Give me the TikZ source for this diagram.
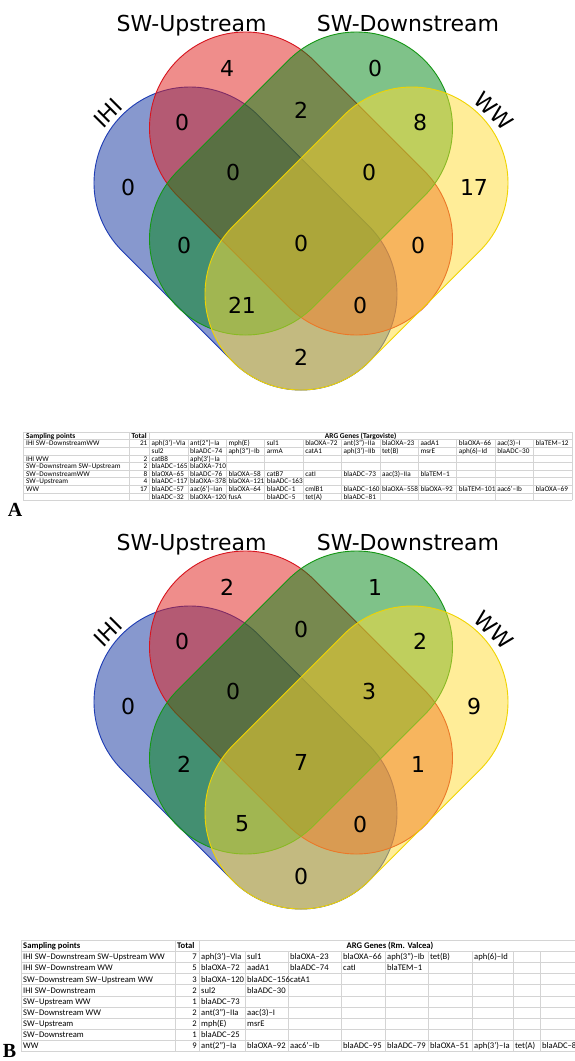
\documentclass[tikz,border=0pt]{standalone}
\usepackage{fontspec}
\newfontfamily\vfont{DejaVu Sans}
\newfontfamily\tfont{Carlito}
\newfontfamily\lfont{Liberation Serif}
\definecolor{vblue}{RGB}{17,51,159}
\definecolor{vred}{RGB}{225,29,25}
\definecolor{vgreen}{RGB}{0,135,21}
\definecolor{vyellow}{RGB}{255,221,51}
\definecolor{sblue}{RGB}{30,60,180}
\definecolor{sred}{RGB}{215,20,30}
\definecolor{sgreen}{RGB}{20,150,20}
\definecolor{syellow}{RGB}{240,212,0}
\definecolor{gridc}{RGB}{212,212,212}
\tikzset{
  vset/.style={line width=0.9pt, fill opacity=0.5},
  bset/.style={vset, fill=vblue, draw=sblue},
  rset/.style={vset, fill=vred, draw=sred},
  gset/.style={vset, fill=vgreen, draw=sgreen},
  yset/.style={vset, fill=vyellow, draw=syellow},
  vnum/.style={font=\vfont\fontsize{22}{26}\selectfont, inner sep=0pt},
  vlab/.style={font=\vfont\fontsize{22}{26}\selectfont, inner sep=0pt},
  cellA/.style={font=\tfont\fontsize{7.2}{9}\selectfont, inner sep=0pt},
  headA/.style={font=\tfont\bfseries\fontsize{7.4}{9}\selectfont, inner sep=0pt},
  cellB/.style={font=\tfont\fontsize{8.6}{10}\selectfont, inner sep=0pt},
  headB/.style={font=\tfont\bfseries\fontsize{8.6}{10}\selectfont, inner sep=0pt},
  gridl/.style={draw=gridc, line width=0.5pt},
  panel/.style={font=\lfont\bfseries\fontsize{20}{22}\selectfont, inner sep=0pt},
}
\newcommand\vstad[4]{\path[#1, shift={(#2,#3)}, rotate=#4]
  (-78.5,-96) -- (78.5,-96) arc[start angle=-90,end angle=90,radius=96]
  -- (-78.5,96) arc[start angle=90,end angle=270,radius=96] -- cycle;}
\newcommand\vennshapes[1]{%
  \vstad{bset}{245.5}{238.5}{-45}
  \vstad{rset}{301}{183.5}{-45}
  \vstad{gset}{301}{183.5}{45}
  \vstad{yset}{356.5}{238.5}{45}
  \node[vlab, anchor=base] (#1-up) at (191.5,31.5) {SW-Upstream};
  \node[vlab, anchor=base] (#1-down) at (408,31.5) {SW-Downstream};
  \node[vlab, rotate=45] (#1-ihi) at (108,113) {IHI};
  \node[vlab, rotate=-45] (#1-ww) at (494,111) {WW};
}
\newcommand\vennnums[2]{%
  \foreach \v [count=\k from 0] in {#2}{%
    \pgfmathsetmacro\px{{227,375,182,301,420,128,233,369,474,184,301,418,242,360,301}[\k]}%
    \pgfmathsetmacro\py{{68,68,122,110,122,187,172,172,187,245,243,245,305,305,357}[\k]}%
    \node[vnum] (#1-n\k) at (\px,\py) {\v};}}
\newcommand\rowA[4]{%
  \pgfmathsetmacro\ry{432+(#1+0.5)*7.6+2.5}
  \node[cellA, anchor=base west] (ta-s#1) at (26,\ry) {#2};
  \node[cellA, anchor=base east] (ta-t#1) at (147.5,\ry) {#3};
  \foreach \g [count=\k from 0] in {#4} {\node[cellA, anchor=base west] (ta-#1-\k) at ({151.5+38.4*\k},\ry) {\g};}}
\newcommand\rowB[4]{%
  \pgfmathsetmacro\ry{940+(#1+0.5)*11.15+3.0}
  \node[cellB, anchor=base west] (tb-s#1) at (23,\ry) {#2};
  \node[cellB, anchor=base east] (tb-t#1) at (197,\ry) {#3};
  \foreach \g [count=\k from 0] in {#4} {\pgfmathsetmacro\gx{{199,245,288,341,385,428,472,513,540}[\k]+2}\node[cellB, anchor=base west] (tb-#1-\k) at (\gx,\ry) {\g};}}
\begin{document}
\begin{tikzpicture}[x=1pt,y=-1pt]
\useasboundingbox (0,0) rectangle (575,1061);
\clip (0,0) rectangle (575,1061);
\fill[white] (0,0) rectangle (575,1061);
% ---------- Venn A
\begin{scope}
  \vennshapes{va}
  \vennnums{va}{4,0,0,2,8,0,0,0,17,0,0,0,21,0,2}
\end{scope}
% ---------- Venn B
\begin{scope}[shift={(0,519)}]
  \vennshapes{vb}
  \vennnums{vb}{2,1,0,0,2,0,0,3,9,2,7,1,5,0,0}
\end{scope}
% ---------- Table A
\foreach \k in {0,...,9} \draw[gridl] (23,{432+\k*7.6}) -- (572,{432+\k*7.6});
\foreach \xx in {23,129,149.5,572} \draw[gridl] (\xx,432) -- (\xx,500.4);
\foreach \k in {1,...,10} \draw[gridl] ({149.5+38.4*\k},439.6) -- ({149.5+38.4*\k},500.4);
\node[headA, anchor=base west] (ta-h1) at (26,438.4) {Sampling points};
\node[headA, anchor=base west] (ta-h2) at (131.5,438.4) {Total};
\node[headA, anchor=base] (ta-h3) at (360.7,438.4) {ARG Genes (Targoviste)};
\rowA{1}{IHI SW–DownstreamWW}{21}{aph(3’)–VIa,ant(2”)–Ia,mph(E),sul1,blaOXA–72,ant(3”)–IIa,blaOXA–23,aadA1,blaOXA–66,aac(3)–I,blaTEM–12}
\rowA{2}{}{}{sul2,blaADC–74,aph(3”)–Ib,armA,catA1,aph(3’)–IIb,tet(B),msrE,aph(6)–Id,blaADC–30}
\rowA{3}{IHI WW}{2}{catB8,aph(3’)–Ia}
\rowA{4}{SW–Downstream SW–Upstream}{2}{blaADC–165,blaOXA–710}
\rowA{5}{SW–DownstreamWW}{8}{blaOXA–65,blaADC–76,blaOXA–58,catB7,catI,blaADC–73,aac(3)–IIa,blaTEM–1}
\rowA{6}{SW–Upstream}{4}{blaADC–117,blaOXA–378,blaOXA–121,blaADC–163}
\rowA{7}{WW}{17}{blaADC–57,aac(6’)–Ian,blaOXA–64,blaADC–1,cmlB1,blaADC–160,blaOXA–558,blaOXA–92,blaTEM–101,aac6’–Ib,blaOXA–69}
\rowA{8}{}{}{blaADC–32,blaOXA–120,fusA,blaADC–5,tet(A),blaADC–81}
\node[panel] (pA) at (15,509.5) {A};
% ---------- Table B
\foreach \k in {0,...,10} \draw[gridl] (21,{940+\k*11.15}) -- (581,{940+\k*11.15});
\foreach \xx in {21,175,199,581} \draw[gridl] (\xx,940) -- (\xx,1051.5);
\foreach \xx in {245,288,341,385,428,472,513,540} \draw[gridl] (\xx,951.15) -- (\xx,1051.5);
\node[headB, anchor=base west] (tb-h1) at (23,948.6) {Sampling points};
\node[headB, anchor=base west] (tb-h2) at (177,948.6) {Total};
\node[headB, anchor=base] (tb-h3) at (390,948.6) {ARG Genes (Rm. Valcea)};
\rowB{1}{IHI SW–Downstream SW–Upstream WW}{7}{aph(3’)–VIa,sul1,blaOXA–23,blaOXA–66,aph(3”)–Ib,tet(B),aph(6)–Id}
\rowB{2}{IHI SW–Downstream WW}{5}{blaOXA–72,aadA1,blaADC–74,catI,blaTEM–1}
\rowB{3}{SW–Downstream SW–Upstream WW}{3}{blaOXA–120,blaADC–156,catA1}
\rowB{4}{IHI SW–Downstream}{2}{sul2,blaADC–30}
\rowB{5}{SW–Upstream WW}{1}{blaADC–73}
\rowB{6}{SW–Downstream WW}{2}{ant(3”)–IIa,aac(3)–I}
\rowB{7}{SW–Upstream}{2}{mph(E),msrE}
\rowB{8}{SW–Downstream}{1}{blaADC–25}
\rowB{9}{WW}{9}{ant(2”)–Ia,blaOXA–92,aac6’–Ib,blaADC–95,blaADC–79,blaOXA–51,aph(3’)–Ia,tet(A),blaADC–81}
\node[panel] (pB) at (9.5,1051) {B};
\end{tikzpicture}
\end{document}
